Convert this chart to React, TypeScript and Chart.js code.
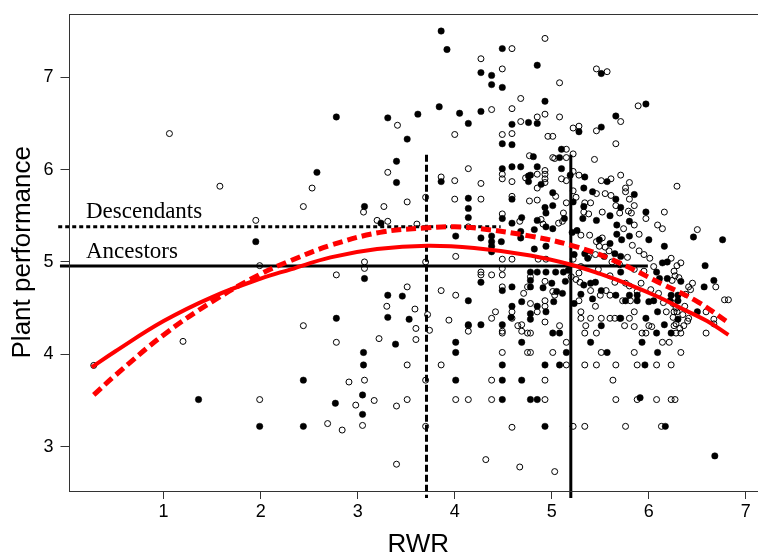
import React, { useEffect, useRef } from 'react';
import { Chart, registerables } from 'chart.js';

Chart.register(...registerables);

// ---- axis ranges and ticks ----
const xRange = [0.02, 7.228];
const yRange = [2.52, 7.69];
const xTickValues = [1, 2, 3, 4, 5, 6, 7];
const yTickValues = [3, 4, 5, 6, 7];

// ---- scatter data (RWR, plant performance) ----
const filledPoints: [number, number][] = [
  [1.36, 3.51], [1.95, 5.22], [1.99, 3.22], [2.44, 3.22], [2.44, 3.72], [2.58, 5.97], [2.78, 6.57], [2.78, 4.39], [2.77, 3.47],
  [3.07, 5.6], [3.07, 4.82], [3.06, 4.02], [3.06, 3.885], [3.05, 3.56], [3.05, 3.35], [3.31, 6.56], [3.62, 6.6], [3.84, 6.68],
  [3.86, 7.5], [3.92, 7.3], [3.51, 6.33], [3.4, 6.09], [3.4, 5.86], [3.86, 5.87], [4.05, 6.61], [4.14, 6.5], [4.27, 6.63],
  [4.27, 7.05], [4.38, 7.02], [4.38, 6.92], [4.49, 6.89], [4.49, 7.31], [4.49, 6.28], [4.59, 6.27], [4.59, 6.49], [4.76, 6.51],
  [4.49, 6.01], [4.59, 6.03], [4.68, 6.03], [4.76, 5.93], [4.76, 5.87], [4.14, 5.69], [4.14, 5.58], [4.59, 5.68], [3.24, 5.42],
  [4.14, 5.48], [4.49, 5.47], [4.59, 5.42], [4.69, 5.48], [4.01, 5.28], [4.27, 5.26], [4.38, 5.28], [4.38, 5.22], [4.38, 5.17],
  [4.38, 5.11], [4.48, 5.22], [4.68, 5.33], [4.68, 5.26], [3.31, 4.64], [3.46, 4.63], [3.31, 4.4], [3.53, 4.38], [4.14, 4.58],
  [4.27, 4.78], [4.59, 4.73], [4.49, 4.69], [4.69, 4.57], [4.59, 4.52], [4.78, 4.44], [4.14, 4.32], [4.27, 4.32], [4.49, 4.32],
  [3.39, 4.11], [4.01, 4.13], [4.01, 4.02], [4.49, 3.885], [4.69, 4.13], [4.01, 3.72], [4.49, 3.72], [4.69, 3.72], [4.49, 3.51],
  [4.78, 3.51],
  [4.85, 7.13], [5.51, 7.04], [4.93, 6.74], [5.97, 6.71], [4.85, 6.5], [5.66, 6.58], [5.28, 6.41], [5.51, 6.46], [5.1, 6.22],
  [4.81, 6.14], [5.08, 6.13], [4.85, 6.03], [5.1, 6.01], [4.78, 5.94], [5.19, 5.94], [5.34, 5.92], [4.89, 5.84], [5.33, 5.8],
  [5.57, 5.87], [5.85, 5.73], [5.01, 5.75], [5.42, 5.76], [5.66, 5.68], [5.22, 5.65], [4.93, 5.59], [5.01, 5.61], [5.33, 5.6], [5.71, 5.59],
  [4.94, 5.53], [4.85, 5.45], [4.94, 5.38], [5.01, 5.36], [5.13, 5.47], [5.32, 5.47], [5.46, 5.45], [5.6, 5.5], [5.8, 5.44],
  [5.97, 5.54], [5.67, 5.4], [4.82, 5.35], [5.21, 5.32], [5.26, 5.34], [6.46, 5.27], [6.76, 5.24], [5.49, 5.24], [5.6, 5.2],
  [5.67, 5.3], [5.72, 5.24], [5.8, 5.28], [6.0, 5.24], [6.16, 5.17], [5.54, 5.06], [5.65, 5.09], [5.71, 5.06], [5.34, 5.09],
  [5.37, 5.04], [4.94, 5.17], [4.82, 5.14], [5.23, 5.08], [6.14, 4.99], [6.19, 5.0], [6.58, 4.96], [6.11, 4.82], [6.19, 4.82],
  [6.67, 4.8], [6.57, 4.73], [6.5, 4.46], [6.23, 4.64], [6.3, 4.64], [6.09, 4.46], [6.16, 4.32],
  [4.85, 4.89], [4.94, 4.89], [5.04, 4.89], [5.12, 4.89], [5.17, 4.91], [5.33, 4.75], [5.4, 4.77], [5.45, 4.78], [6.0, 4.57],
  [5.02, 4.57], [4.94, 4.46], [5.23, 4.55],
  [4.78, 4.89], [4.78, 4.8], [4.78, 4.73], [4.78, 4.38], [4.85, 4.52], [4.91, 4.72], [5.0, 4.77], [5.05, 4.68], [5.11, 4.66],
  [5.14, 4.79], [5.3, 4.65], [5.42, 4.6], [5.51, 4.69], [5.51, 4.31], [5.71, 4.89], [5.66, 4.64], [5.71, 4.39], [5.76, 4.58],
  [5.8, 4.64], [5.88, 4.64], [5.88, 4.58], [5.97, 4.39], [6.05, 4.58], [6.08, 4.89], [6.22, 4.58], [6.3, 4.58], [6.3, 4.38],
  [6.33, 4.79], [4.58, 4.4],
  [5.01, 4.23], [5.08, 4.23], [6.08, 4.23], [6.23, 4.23], [5.4, 4.13], [5.93, 4.13], [5.15, 4.02], [5.57, 4.02], [6.09, 4.02],
  [4.93, 3.885], [5.08, 3.885], [5.96, 3.885], [4.85, 3.51], [5.91, 3.53], [4.93, 3.22], [6.17, 3.22], [6.68, 2.9],
];

const openPoints: [number, number][] = [
  [0.28, 3.88], [1.06, 6.39], [1.2, 4.14], [1.58, 5.82], [1.95, 5.45], [1.99, 4.96], [1.99, 3.51], [2.44, 5.6], [2.44, 4.31],
  [2.53, 5.8], [2.69, 3.25], [2.78, 4.86], [2.78, 4.13], [2.84, 3.18], [2.91, 3.7], [2.98, 3.45], [3.05, 3.23], [3.06, 5.54],
  [3.07, 5.0], [3.07, 4.93], [3.07, 3.72], [3.17, 3.5], [3.2, 5.45], [3.22, 4.17], [3.27, 5.6], [3.31, 5.97], [3.31, 5.44],
  [3.41, 6.48], [3.4, 3.44], [3.4, 2.81], [3.51, 5.65], [3.51, 4.73], [3.51, 3.885], [3.51, 3.51], [3.3, 4.52], [3.59, 4.49],
  [3.6, 4.28], [3.6, 4.16], [3.61, 5.41], [3.7, 5.7], [3.7, 5.0], [3.7, 3.72], [3.7, 3.22], [3.72, 4.43], [3.74, 4.26],
  [3.86, 5.92], [3.86, 4.69], [3.86, 3.885], [3.94, 4.37], [4.0, 6.38], [4.0, 5.88], [4.0, 5.68], [4.01, 5.06], [4.01, 4.64],
  [4.01, 3.51], [4.14, 6.01], [4.14, 5.38], [4.14, 4.25], [4.14, 4.31], [4.14, 3.51], [4.27, 7.2], [4.27, 5.85], [4.27, 5.68],
  [4.27, 4.89], [4.27, 4.86], [4.32, 2.86], [4.38, 6.65], [4.38, 4.86], [4.38, 4.39], [4.42, 4.46], [4.38, 3.72], [4.38, 3.51],
  [4.49, 7.09], [4.49, 6.38], [4.49, 5.95], [4.49, 5.9], [4.49, 5.52], [4.49, 5.03], [4.49, 4.93], [4.49, 4.86], [4.49, 4.73],
  [4.49, 4.25], [4.49, 4.23], [4.49, 4.02], [4.59, 7.31], [4.59, 6.66], [4.59, 6.39], [4.59, 5.87], [4.59, 5.71], [4.59, 5.03],
  [4.59, 4.46], [4.59, 4.39], [4.59, 3.21], [4.67, 5.44], [4.67, 2.78], [4.68, 6.77], [4.68, 6.52], [4.69, 4.32], [4.69, 4.25],
  [4.65, 4.31], [4.71, 4.66], [4.73, 5.91], [4.75, 4.73], [4.75, 4.23], [4.75, 4.02], [4.77, 6.15], [4.77, 5.66], [4.78, 4.84],
  [4.78, 4.55], [4.78, 4.23],
  [4.93, 7.42], [5.46, 7.09], [5.57, 7.06], [5.08, 6.94], [5.89, 6.69], [4.85, 6.57], [4.93, 6.6], [5.08, 6.57], [5.71, 6.52],
  [5.22, 6.45], [5.28, 6.47], [5.46, 6.42], [4.96, 6.36], [5.01, 6.36], [5.66, 6.28], [5.15, 6.22], [5.22, 6.17], [5.01, 6.13],
  [5.03, 6.12], [5.15, 6.13], [5.44, 6.11], [4.93, 5.99], [4.93, 5.95], [4.93, 5.9], [4.93, 5.86], [4.85, 5.95], [5.22, 5.98],
  [5.28, 5.94], [5.1, 5.9], [5.15, 5.88], [4.85, 5.8], [5.51, 5.88], [5.61, 5.9], [5.71, 5.94], [5.8, 5.86], [5.76, 5.8],
  [5.76, 5.76], [5.8, 5.68], [6.29, 5.82], [5.04, 5.71], [5.46, 5.74], [5.55, 5.74], [5.61, 5.72], [5.22, 5.77], [5.25, 5.7],
  [5.15, 5.64], [4.85, 5.67], [5.34, 5.64], [5.4, 5.64], [5.66, 5.61], [5.85, 5.61],
  [4.89, 5.46], [4.91, 5.41], [5.07, 5.42], [5.11, 5.44], [5.12, 5.53], [5.33, 5.54], [5.38, 5.52], [5.52, 5.54], [5.7, 5.53],
  [5.79, 5.55], [5.82, 5.53], [5.97, 5.47], [6.09, 5.4], [6.14, 5.36], [6.16, 5.54], [5.3, 5.29], [5.39, 5.29], [6.5, 5.35],
  [5.52, 5.26], [5.46, 5.22], [5.49, 5.17], [5.55, 5.16], [5.59, 5.12], [5.38, 5.06], [5.45, 5.08], [4.86, 5.03], [4.94, 5.03],
  [6.01, 5.04], [6.23, 5.04], [6.29, 4.96], [6.33, 4.99], [6.26, 4.9], [6.27, 4.85], [6.24, 4.8], [6.31, 4.83], [6.45, 4.77],
  [6.78, 4.59], [6.82, 4.59], [6.69, 4.73], [6.67, 4.38], [6.67, 4.33], [6.59, 4.23],
  [5.74, 5.36], [5.85, 5.4], [5.9, 5.3], [5.83, 5.18], [5.9, 5.12], [5.78, 5.05], [5.95, 5.08], [5.62, 5.0], [5.7, 4.97],
  [5.85, 4.92], [5.95, 4.9], [6.05, 4.95], [5.6, 4.85], [5.48, 4.92], [5.3, 4.95], [5.22, 5.03], [5.28, 4.88], [5.65, 4.78],
  [5.8, 4.74], [5.92, 4.77], [6.02, 4.7], [5.88, 4.68], [6.1, 4.66], [6.15, 4.56], [6.28, 4.5], [6.35, 4.43], [6.25, 4.4],
  [6.18, 4.46], [6.4, 4.36], [6.28, 4.33], [6.32, 4.28], [6.43, 4.7], [6.37, 4.52], [6.25, 4.55],
  [4.85, 4.46], [4.93, 4.58], [4.93, 4.52], [4.93, 4.79], [4.93, 4.35], [5.01, 4.68], [5.03, 4.64], [5.08, 4.31], [5.2, 4.84],
  [5.25, 4.81], [5.29, 4.78], [5.28, 4.58], [5.3, 4.46], [5.3, 4.39], [5.35, 4.31], [5.4, 4.39], [5.4, 4.69], [5.45, 4.52],
  [5.5, 4.64], [5.56, 4.69], [5.6, 4.64], [5.51, 4.39], [5.6, 4.39], [5.65, 4.39], [5.7, 4.39], [5.76, 4.77], [5.73, 4.58],
  [5.81, 4.58], [5.85, 4.46], [5.8, 4.39], [5.75, 4.31], [5.85, 4.3], [6.0, 4.31], [6.03, 4.3], [6.26, 4.46], [6.29, 4.46],
  [6.26, 4.31], [6.36, 4.31], [6.41, 4.73], [6.38, 4.65], [6.41, 4.39], [6.59, 4.46],
  [5.34, 4.23], [5.46, 4.23], [5.93, 4.23], [5.97, 4.23], [6.28, 4.23], [6.33, 4.23], [5.15, 4.13], [6.14, 4.13], [6.21, 4.13],
  [4.78, 4.02], [5.01, 4.02], [5.51, 4.02], [5.85, 4.02], [6.33, 4.02], [5.15, 3.885], [5.34, 3.885], [5.46, 3.885], [5.66, 3.885],
  [5.88, 3.885], [6.08, 3.885], [6.23, 3.885], [4.93, 3.72], [5.63, 3.72], [4.93, 3.51], [5.66, 3.51], [5.88, 3.51], [6.08, 3.51],
  [6.23, 3.51], [6.27, 3.51], [5.22, 3.22], [5.34, 3.22], [5.76, 3.22], [6.13, 3.22], [5.03, 2.73],
];

// ---- fitted curves ----
const ancestorsCurve: [number, number][] = [
  [0.26, 3.86], [0.5, 4.03], [1.0, 4.36], [1.5, 4.62], [2.0, 4.82], [2.31, 4.92], [2.72, 5.05], [3.2, 5.14], [3.72, 5.175],
  [4.2, 5.15], [4.78, 5.07], [5.2, 4.97], [5.5, 4.87], [5.81, 4.75], [6.1, 4.62], [6.33, 4.5], [6.6, 4.36], [6.82, 4.21],
];
const descendantsCurve: [number, number][] = [
  [0.28, 3.56], [0.5, 3.77], [1.0, 4.21], [1.5, 4.57], [2.0, 4.87], [2.3, 5.01], [2.72, 5.18], [3.23, 5.32], [3.72, 5.37],
  [4.0, 5.38], [4.27, 5.36], [4.78, 5.28], [5.2, 5.18], [5.61, 5.03], [6.12, 4.77], [6.5, 4.57], [6.81, 4.35],
];

// ---- reference lines ----
const ancestorsMeanLine: [number, number][] = [[-0.068, 4.957], [5.99, 4.957]];
const descendantsMeanLine: [number, number][] = [[-0.086, 5.382], [4.473, 5.382]];
const ancestorsOptimumLine: [number, number][] = [[5.196, 6.16], [5.196, 2.444]];
const descendantsOptimumLine: [number, number][] = [[3.709, 6.16], [3.709, 2.444]];

// ---- text annotations ----
const annotationLabels = ['Descendants', 'Ancestors'];
const annotationX = [0.2, 0.2];
const annotationY = [5.476, 5.043];

const SANS = '"Liberation Sans", Arial, Helvetica, sans-serif';
const SERIF = '"Liberation Serif", "Times New Roman", serif';

const toXY = (arr: [number, number][]) => arr.map(([x, y]) => ({ x, y }));

const framePlugin = {
  id: 'frame',
  afterDraw(chart: any) {
    const { ctx, chartArea } = chart;
    ctx.save();
    ctx.strokeStyle = '#333';
    ctx.lineWidth = 1;
    ctx.strokeRect(
      Math.round(chartArea.left) + 0.5,
      Math.round(chartArea.top) + 0.5,
      chartArea.right - chartArea.left,
      Math.round(chartArea.bottom) - Math.round(chartArea.top)
    );
    ctx.restore();
  },
};

const labelPlugin = {
  id: 'labels',
  afterDatasetsDraw(chart: any) {
    const { ctx } = chart;
    const xs = chart.scales.x;
    const ys = chart.scales.y;
    ctx.save();
    ctx.fillStyle = '#000';
    ctx.font = `23px ${SERIF}`;
    ctx.textAlign = 'left';
    ctx.textBaseline = 'alphabetic';
    annotationLabels.forEach((t, i) => {
      ctx.fillText(t, xs.getPixelForValue(annotationX[i]), ys.getPixelForValue(annotationY[i]));
    });
    ctx.restore();
  },
};

export default function App() {
  const ref = useRef<HTMLCanvasElement>(null);
  useEffect(() => {
    const lineDs = (data: [number, number][], width: number, color: string, dash: number[], tension = 0) => ({
      type: 'scatter' as const,
      data: toXY(data),
      showLine: true,
      borderColor: color,
      borderWidth: width,
      borderDash: dash,
      borderCapStyle: 'butt' as const,
      pointRadius: 0,
      fill: false,
      tension,
      clip: false as any,
    });
    const chart = new Chart(ref.current!, {
      type: 'scatter',
      data: {
        datasets: [
          lineDs(ancestorsCurve, 4, '#ff0000', [], 0.4),
          lineDs(descendantsCurve, 5, '#ff0000', [10, 5], 0.4),
          lineDs(ancestorsMeanLine, 3, '#000', []),
          lineDs(descendantsMeanLine, 3, '#000', [4, 3]),
          lineDs(ancestorsOptimumLine, 3, '#000', []),
          lineDs(descendantsOptimumLine, 3, '#000', [7, 3]),
          {
            data: toXY(filledPoints),
            pointRadius: 3.2,
            pointBackgroundColor: '#000',
            pointBorderColor: '#000',
            pointBorderWidth: 0.5,
          } as any,
          {
            data: toXY(openPoints),
            pointRadius: 3,
            pointBackgroundColor: 'rgba(0,0,0,0)',
            pointBorderColor: '#000',
            pointBorderWidth: 1,
          } as any,
        ],
      },
      options: {
        responsive: false,
        animation: false,
        events: [],
        layout: { padding: { top: 13.5, left: 0, right: 0, bottom: 0 } },
        plugins: { legend: { display: false }, tooltip: { enabled: false } },
        scales: {
          x: {
            type: 'linear',
            min: xRange[0],
            max: xRange[1],
            afterBuildTicks: (s: any) => {
              s.ticks = xTickValues.map((v) => ({ value: v }));
            },
            afterFit: (s: any) => {
              s.height = 63;
              s.paddingLeft = 0;
              s.paddingRight = 0;
              s.paddingTop = 0;
              s.paddingBottom = 0;
            },
            ticks: { font: { family: SANS, size: 18 }, color: '#000', padding: 2, maxRotation: 0, autoSkip: false },
            grid: { drawOnChartArea: false, drawTicks: true, tickLength: 8, color: '#333', lineWidth: 1 },
            border: { display: false },
            title: { display: true, text: 'RWR', font: { family: SANS, size: 26 }, color: '#000', padding: { top: 0, bottom: -6 } },
          },
          y: {
            type: 'linear',
            min: yRange[0],
            max: yRange[1],
            afterBuildTicks: (s: any) => {
              s.ticks = yTickValues.map((v) => ({ value: v }));
            },
            afterFit: (s: any) => {
              s.width = 68.5;
              s.paddingLeft = 0;
              s.paddingRight = 0;
              s.paddingTop = 0;
              s.paddingBottom = 0;
            },
            ticks: { font: { family: SANS, size: 18 }, color: '#000', padding: 7, autoSkip: false },
            grid: { drawOnChartArea: false, drawTicks: true, tickLength: 8, color: '#333', lineWidth: 1 },
            border: { display: false },
            title: { display: true, text: 'Plant performance', font: { family: SANS, size: 26 }, color: '#000', padding: { top: 7, bottom: 0 } },
          },
        },
      } as any,
      plugins: [framePlugin, labelPlugin],
    });
    return () => chart.destroy();
  }, []);
  return (
    <div style={{ position: 'fixed', left: 0, top: 0, width: 758, height: 554, overflow: 'hidden', background: '#fff' }}>
      <canvas ref={ref} width={773} height={554} style={{ display: 'block' }} />
    </div>
  );
}
